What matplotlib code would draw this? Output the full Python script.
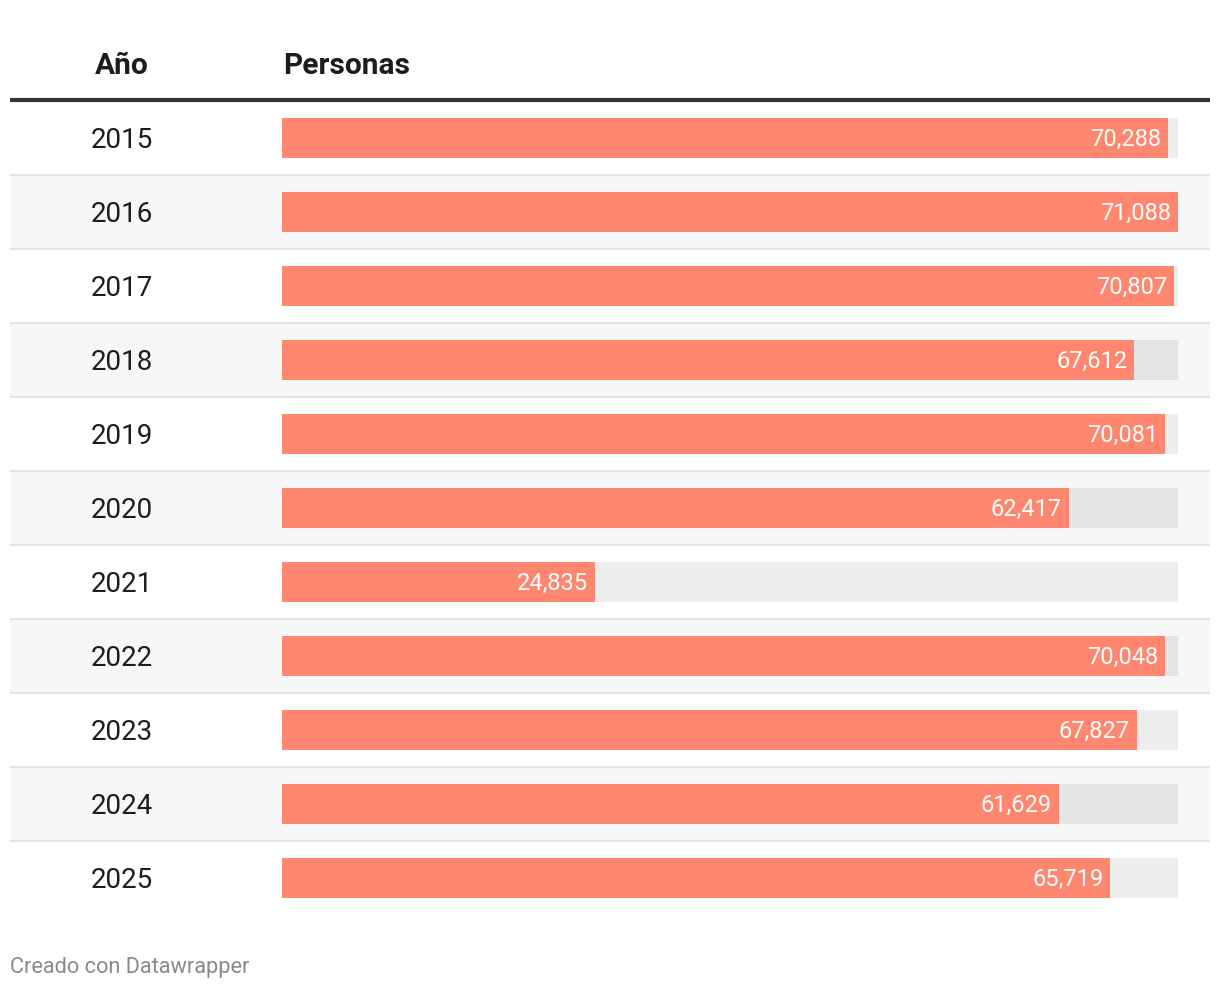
import matplotlib
matplotlib.use("Agg")
import matplotlib.pyplot as plt
from matplotlib.patches import Rectangle
from matplotlib.lines import Line2D

plt.rcParams['font.family'] = ['Roboto', 'DejaVu Sans']

years = ["2015", "2016", "2017", "2018", "2019", "2020", "2021", "2022", "2023", "2024", "2025"]
personas = [70288, 71088, 70807, 67612, 70081, 62417, 24835, 70048, 67827, 61629, 65719]
header_year = "Año"
header_value = "Personas"
footer = "Creado con Datawrapper"

W, H = 1220, 990
fig = plt.figure(figsize=(W / 100, H / 100), dpi=100)
fig.patch.set_facecolor("white")

# background axes in pixel coordinates
bg = fig.add_axes([0, 0, 1, 1])
bg.set_xlim(0, W)
bg.set_ylim(H, 0)
bg.axis("off")

row_top0 = 101
row_h = 74
n = len(years)
for i, y in enumerate(years):
    top = row_top0 + i * row_h
    if i % 2 == 1:
        bg.add_patch(Rectangle((10, top), 1200, row_h, facecolor="#f7f7f7", edgecolor="none", zorder=0))
    if i > 0:
        bg.add_line(Line2D([10, 1210], [top, top], color="#e6e6e6", lw=1.6,
                           solid_capstyle="butt", zorder=1))
    bg.text(122, top + row_h / 2 + 3, y, ha="center", va="center", fontsize=20, color="#1d1d1d")

bg.add_line(Line2D([10, 1210], [99.5, 99.5], color="#333333", lw=3.0,
                   solid_capstyle="butt", zorder=2))
bg.text(122, 66, header_year, ha="center", va="center", fontsize=21.5, fontweight="bold", color="#1d1d1d")
bg.text(283, 66, header_value, ha="left", va="center", fontsize=21.5, fontweight="bold", color="#1d1d1d")
bg.text(10, 968, footer, ha="left", va="center", fontsize=15.7, color="#8a8a8a")

# bar axes
bx0, bx1 = 282, 1178
by0, by1 = row_top0, row_top0 + n * row_h
ax = fig.add_axes([bx0 / W, 1 - by1 / H, (bx1 - bx0) / W, (by1 - by0) / H])
ax.patch.set_alpha(0)
vmax = max(personas)
ax.set_xlim(0, vmax)
ax.set_ylim(n - 0.5, -0.5)
ax.axis("off")
bh = 40 / row_h
pos = list(range(n))
ax.barh(pos, [vmax] * n, height=bh, color="black", alpha=0.072, edgecolor="none")
ax.barh(pos, personas, height=bh, color="#ff876f", edgecolor="none")
for i, v in enumerate(personas):
    ax.annotate(f"{v:,}", xy=(v, i), xytext=(-7, -1), textcoords="offset pixels",
                ha="right", va="center", fontsize=17, color="white")

fig.savefig("out.png", dpi=100, facecolor="white")
